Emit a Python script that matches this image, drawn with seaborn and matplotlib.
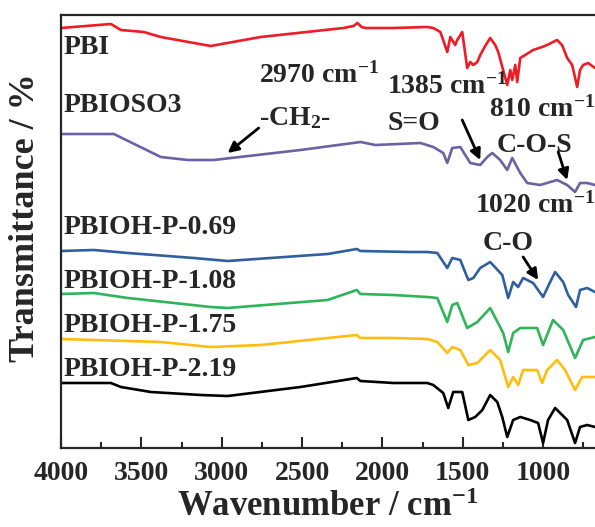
import numpy as np
import pandas as pd
import seaborn as sns
import matplotlib
matplotlib.use("Agg")
import matplotlib.pyplot as plt
from matplotlib.ticker import MultipleLocator

# ---------------- data (arbitrary offset transmittance units) -------------
series_names = ["PBI", "PBIOSO3", "PBIOH-P-0.69", "PBIOH-P-1.08", "PBIOH-P-1.75", "PBIOH-P-2.19"]
series_colors = ["#ee1c25", "#6a62a4", "#2f5f9f", "#2fb45a", "#ffbe0f", "#000000"]

pbi_wn = [4000, 3690, 3627, 3485, 3379, 3069, 2758, 2243, 2180, 2156, 2130, 2106, 1932, 1721, 1684, 1640,
          1597, 1578, 1548, 1535, 1504, 1473, 1454, 1435, 1410, 1392, 1361, 1330, 1299, 1280, 1224, 1205,
          1193, 1174, 1162, 1143, 1112, 1063, 1007, 976, 914, 883, 851, 820, 789, 771, 752, 721, 678]
pbi_t = [420, 424, 418, 416, 411, 402, 411, 420, 422, 425, 421, 420, 420, 421, 420, 416,
         396, 411, 403, 408, 416, 380, 386, 383, 386, 393, 402, 410, 403, 396, 363, 378,
         368, 383, 366, 390, 393, 398, 401, 403, 408, 403, 390, 383, 361, 378, 383, 385, 380]

pbioso3_wn = [4000, 3671, 3379, 3211, 3050, 2510, 2137, 2044, 1764, 1684, 1622, 1597, 1566, 1516, 1454, 1392,
              1348, 1317, 1268, 1224, 1193, 1143, 1100, 1019, 914, 851, 802, 771, 727, 678]
pbioso3_t = [314, 314, 291, 288, 288, 298, 306, 303, 305, 301, 295, 285, 300, 301, 285, 283,
             291, 295, 288, 278, 290, 275, 265, 263, 268, 263, 256, 265, 265, 263]

p069_wn = [4000, 3795, 3584, 3174, 2963, 2342, 2160, 2137, 1827, 1721, 1659, 1597, 1566, 1516, 1466, 1435,
           1392, 1330, 1255, 1218, 1187, 1156, 1125, 1063, 1001, 957, 926, 876, 845, 796, 771, 727, 678]
p069_t = [197, 198, 195, 190, 187, 194, 199, 197, 196, 196, 195, 180, 190, 188, 168, 170,
          180, 186, 173, 150, 166, 161, 170, 165, 151, 166, 176, 166, 153, 141, 158, 160, 156]

p108_wn = [4000, 3795, 3584, 3069, 2963, 2342, 2160, 2137, 1932, 1721, 1659, 1597, 1566, 1535, 1473, 1410,
           1330, 1249, 1218, 1187, 1143, 1038, 1001, 939, 876, 802, 752, 678]
p108_t = [154, 155, 150, 141, 140, 148, 158, 154, 153, 151, 150, 126, 143, 145, 120, 126,
          140, 115, 96, 115, 120, 120, 103, 128, 118, 90, 108, 111]

p175_wn = [4000, 3379, 3069, 2758, 2160, 2137, 1932, 1721, 1659, 1597, 1566, 1516, 1466, 1410, 1330, 1268,
           1218, 1187, 1156, 1125, 1038, 1007, 976, 914, 864, 802, 758, 678]
p175_t = [109, 106, 101, 103, 113, 110, 110, 109, 106, 95, 101, 98, 83, 85, 98, 88,
          61, 71, 63, 78, 78, 65, 78, 88, 78, 58, 71, 71]

p219_wn = [4000, 3690, 3627, 3441, 3131, 2963, 2510, 2160, 2137, 1932, 1721, 1684, 1622, 1591, 1560, 1504,
           1466, 1423, 1379, 1330, 1286, 1255, 1224, 1187, 1143, 1081, 1032, 1001, 970, 926, 851, 802,
           771, 727, 678]
p219_t = [65, 65, 61, 56, 53, 52, 61, 70, 67, 65, 65, 63, 55, 40, 56, 56,
          28, 31, 38, 53, 46, 31, 11, 28, 31, 28, 25, 5, 28, 40, 28, 5,
          21, 23, 21]

x_ticks = [4000, 3500, 3000, 2500, 2000, 1500, 1000]

all_wn = [pbi_wn, pbioso3_wn, p069_wn, p108_wn, p175_wn, p219_wn]
all_t = [pbi_t, pbioso3_t, p069_t, p108_t, p175_t, p219_t]

frames = []
for name, wn, t in zip(series_names, all_wn, all_t):
    frames.append(pd.DataFrame({"Wavenumber": wn, "T": t, "sample": name}))
df = pd.concat(frames, ignore_index=True)

# ---------------- style ----------------
sns.set_style("ticks")
plt.rcParams["font.family"] = ["Liberation Serif", "DejaVu Serif"]
plt.rcParams["font.weight"] = "bold"
plt.rcParams["mathtext.fontset"] = "custom"
plt.rcParams["mathtext.rm"] = "Liberation Serif:bold"
plt.rcParams["mathtext.bf"] = "Liberation Serif:bold"
plt.rcParams["mathtext.it"] = "Liberation Serif:bold"

W, H = 595, 527
fig = plt.figure(figsize=(W / 100, H / 100), dpi=100)
ax = fig.add_axes([61 / W, 1 - 448 / H, (595 - 61) / W, (448 - 15) / H])

sns.lineplot(data=df, x="Wavenumber", y="T", hue="sample", hue_order=series_names,
             palette=dict(zip(series_names, series_colors)), estimator=None, lw=1.9,
             legend=False, ax=ax)

ax.set_xlim(4000, 678)
ax.set_ylim(0, 433)
ax.set_xticks(x_ticks)
ax.set_xticklabels([str(v) for v in x_ticks])
ax.xaxis.set_minor_locator(MultipleLocator(250))
ax.set_yticks([])
ax.tick_params(axis="x", which="major", direction="in", length=8, width=1.5, pad=9, labelsize=20)
ax.tick_params(axis="x", which="minor", direction="in", length=4, width=1.5)
for lab in ax.get_xticklabels():
    lab.set_fontweight("bold")
for s in ["left", "bottom", "top"]:
    ax.spines[s].set_linewidth(1.6)
ax.spines["right"].set_visible(False)

ax.set_xlabel("Wavenumber / cm$^{-1}$", fontsize=25, fontweight="bold")
ax.xaxis.set_label_coords(0.5, -0.10)
ax.xaxis.label.set_verticalalignment("top")
ax.set_ylabel("Transmittance / %", fontsize=26, fontweight="bold")
ax.yaxis.set_label_coords(-0.036, 0.533)

# sample labels
label_y = [401, 342, 221, 166, 122, 78]
for name, yy in zip(series_names, label_y):
    ax.text(3982, yy, name, fontsize=20, fontweight="bold", ha="left", va="center")

# peak annotations
fs = 20
ax.text(2770, 373, "2970 cm$^{-1}$", fontsize=fs, ha="left", va="center")
ax.text(2770, 330, "-CH$_{2}$-", fontsize=fs, ha="left", va="center")
ax.text(1969, 362, "1385 cm$^{-1}$", fontsize=fs, ha="left", va="center")
ax.text(1969, 325, "S=O", fontsize=fs, ha="left", va="center")
ax.text(1340, 339, "810 cm$^{-1}$", fontsize=fs, ha="left", va="center", clip_on=False)
ax.text(1290, 303, "C-O-S", fontsize=fs, ha="left", va="center")
ax.text(1425, 243, "1020 cm$^{-1}$", fontsize=fs, ha="left", va="center", clip_on=False)
ax.text(1379, 205, "C-O", fontsize=fs, ha="left", va="center")

arrow = dict(arrowstyle="-|>", lw=2, color="black", mutation_scale=16, shrinkA=0, shrinkB=0)
ax.annotate("", xy=(2963, 295), xytext=(2770, 320), arrowprops=arrow)
ax.annotate("", xy=(1392, 288), xytext=(1504, 328), arrowprops=arrow)
ax.annotate("", xy=(851, 268), xytext=(907, 296), arrowprops=arrow)
ax.annotate("", xy=(1032, 168), xytext=(1125, 191), arrowprops=arrow)

fig.savefig("out.png", dpi=100)
